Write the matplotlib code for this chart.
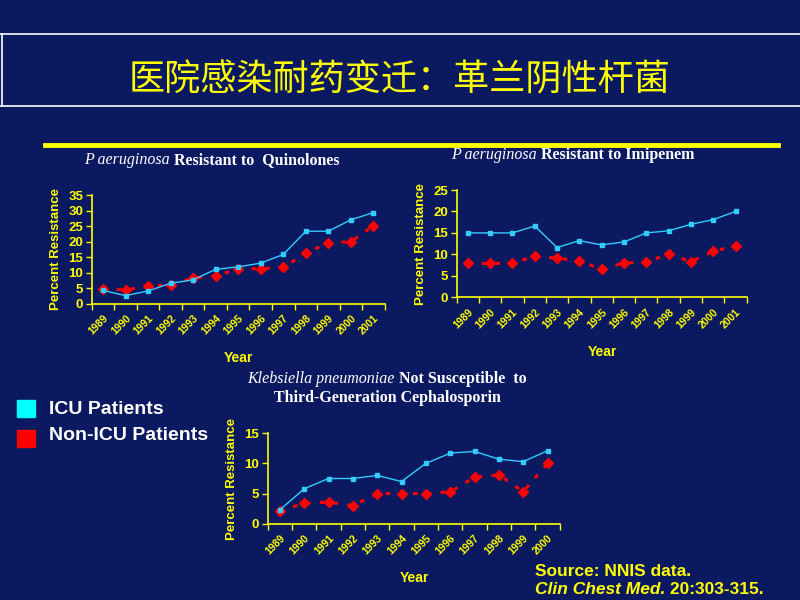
import matplotlib
matplotlib.use("Agg")
import matplotlib.pyplot as plt
from matplotlib.patches import Rectangle
from matplotlib.lines import Line2D
from matplotlib.transforms import ScaledTranslation

plt.rcParams['font.family'] = ['Liberation Sans', 'DejaVu Sans']

BG = '#0b1a60'
YEL = '#ffff00'
CYAN = '#33ccff'
RED = '#ff0000'

# ---------------- data ----------------
years_a = ['1989', '1990', '1991', '1992', '1993', '1994', '1995', '1996',
           '1997', '1998', '1999', '2000', '2001']
quin_icu = [4.3, 2.6, 4.1, 6.6, 7.7, 11.1, 11.9, 13.1, 15.9, 23.4, 23.4, 27.1, 29.4]
quin_non = [4.9, 4.5, 5.6, 6.0, 8.3, 8.9, 11.3, 11.3, 11.7, 16.3, 19.7, 20.0, 25.2]

imip_icu = [15.0, 15.0, 15.0, 16.6, 11.6, 13.2, 12.2, 12.9, 15.0, 15.5, 17.0, 18.1, 20.0]
imip_non = [7.9, 7.9, 7.9, 9.6, 9.1, 8.5, 6.5, 8.0, 8.2, 10.1, 8.3, 10.7, 12.0]

years_k = ['1989', '1990', '1991', '1992', '1993', '1994', '1995', '1996',
           '1997', '1998', '1999', '2000']
kleb_icu = [2.3, 5.8, 7.5, 7.5, 8.0, 7.0, 10.0, 11.7, 12.0, 10.7, 10.3, 12.1]
kleb_non = [2.1, 3.4, 3.6, 3.0, 5.0, 5.0, 5.0, 5.3, 7.7, 8.1, 5.3, 10.0]

title_text = '医院感染耐药变迁：革兰阴性杆菌'
legend_labels = ['ICU Patients', 'Non-ICU Patients']

fig = plt.figure(figsize=(8, 6), dpi=100)
fig.patch.set_facecolor(BG)
renderer = fig.canvas.get_renderer()

# title box
fig.add_artist(Line2D([0, 1], [1 - 33.5/600, 1 - 33.5/600], color='white', lw=1.2, transform=fig.transFigure))
fig.add_artist(Line2D([0, 1], [1 - 105.5/600, 1 - 105.5/600], color='white', lw=1.2, transform=fig.transFigure))
fig.add_artist(Line2D([1.5/800, 1.5/800], [1 - 33.5/600, 1 - 105.5/600], color='white', lw=1.2, transform=fig.transFigure))
fig.text(0.5, 1 - 80/600, title_text, color=YEL, fontsize=26, ha='center', va='center',
         family=['Noto Sans CJK SC', 'DejaVu Sans'])
# yellow rule
fig.add_artist(Line2D([45/800, 778/800], [1 - 145/600, 1 - 145/600], color=YEL, lw=3.5, transform=fig.transFigure))


def panel(rect, cats, icu, non, ymax, ystep, year_xy):
    ax = fig.add_axes(rect)
    ax.set_facecolor(BG)
    x = list(range(len(cats)))
    ax.plot(x, non, color=RED, lw=2.2, ls=(0, (1.5, 3)), marker='D', ms=5.5,
            markerfacecolor=RED, markeredgecolor=RED, zorder=2)
    ax.plot(x, icu, color=CYAN, lw=1.0, marker='s', ms=3.5,
            markerfacecolor=CYAN, markeredgecolor=CYAN, zorder=3)
    ax.set_xlim(-0.5, len(cats) - 0.5)
    ax.set_ylim(0, ymax)
    ax.set_yticks(range(0, ymax + 1, ystep))
    ax.set_xticks([i - 0.5 for i in range(len(cats) + 1)], minor=False)
    ax.set_xticklabels([''] * (len(cats) + 1))
    ax.set_xticks(x, minor=True)
    ax.set_xticklabels(cats, minor=True, rotation=45, ha='right', va='top',
                       rotation_mode='anchor', color=YEL, fontsize=7.5, fontweight='bold')
    off = ScaledTranslation(5/100, 0, fig.dpi_scale_trans)
    for lab in ax.get_xticklabels(minor=True):
        lab.set_transform(lab.get_transform() + off)
    ax.tick_params(axis='x', which='minor', length=0, pad=7)
    ax.tick_params(axis='x', which='major', length=4, color=YEL, width=1)
    ax.tick_params(axis='y', length=4, color=YEL, width=1, labelcolor=YEL,
                   labelsize=9.5, pad=2)
    for lab in ax.get_yticklabels():
        lab.set_fontweight('bold')
    for s in ['top', 'right']:
        ax.spines[s].set_visible(False)
    for s in ['left', 'bottom']:
        ax.spines[s].set_color(YEL)
        ax.spines[s].set_linewidth(1.2)
    ax.set_ylabel('Percent Resistance', color=YEL, fontsize=9.5, fontweight='bold', labelpad=5)
    fig.text(year_xy[0]/800, 1 - year_xy[1]/600, 'Year', color=YEL, fontsize=10,
             fontweight='bold', ha='center', va='center')
    return ax


ax1 = panel([91.7/800, 1 - 303.7/600, 293/800, 108.4/600], years_a, quin_icu, quin_non, 35, 5, (238, 358))
ax2 = panel([456.7/800, 1 - 297.3/600, 290/800, 107.3/600], years_a, imip_icu, imip_non, 25, 5, (602, 352))
ax3 = panel([267.7/800, 1 - 523.7/600, 292/800, 90.4/600], years_k, kleb_icu, kleb_non, 15, 5, (414, 578))

# chart titles
TFS = 11.5
titles = [
    (212, 160, 'P aeruginosa', 'Resistant to  Quinolones'),
    (573, 155, 'P aeruginosa', 'Resistant to Imipenem'),
    (387, 379, 'Klebsiella pneumoniae', 'Not Susceptible  to'),
]
for xc, y, it, rest in titles:
    t1 = fig.text(0, 0, it + ' ', color='white', fontsize=TFS, family='Liberation Serif',
                  style='italic', va='center')
    t2 = fig.text(0, 0, rest, color='white', fontsize=TFS, family='Liberation Serif',
                  fontweight='bold', va='center')
    w1 = t1.get_window_extent(renderer).width
    w2 = t2.get_window_extent(renderer).width
    start = xc - (w1 + w2) / 2
    t1.set_position((start/800, 1 - y/600))
    t2.set_position(((start + w1)/800, 1 - y/600))

fig.text(387/800, 1 - 398/600, 'Third-Generation Cephalosporin', color='white', fontsize=TFS,
         family='Liberation Serif', fontweight='bold', ha='center', va='center')

# legend
fig.add_artist(Rectangle((17/800, 1 - 417/600), 18/800, 17/600, color='#00ffff', transform=fig.transFigure))
fig.add_artist(Rectangle((17/800, 1 - 447/600), 18/800, 17/600, color=RED, transform=fig.transFigure))
fig.text(49/800, 1 - 409/600, legend_labels[0], color='white', fontsize=14, fontweight='bold', va='center')
fig.text(49/800, 1 - 436/600, legend_labels[1], color='white', fontsize=14, fontweight='bold', va='center')

# source
fig.text(535/800, 1 - 572/600, 'Source: NNIS data.', color=YEL, fontsize=12.5, fontweight='bold', va='center')
s1 = fig.text(535/800, 1 - 590/600, 'Clin Chest Med.', color=YEL, fontsize=12.5, fontweight='bold',
              style='italic', va='center')
w = s1.get_window_extent(renderer).width
fig.text((535 + w)/800, 1 - 590/600, ' 20:303-315.', color=YEL, fontsize=12.5, fontweight='bold', va='center')

fig.savefig('out.png', dpi=100, facecolor=BG)
